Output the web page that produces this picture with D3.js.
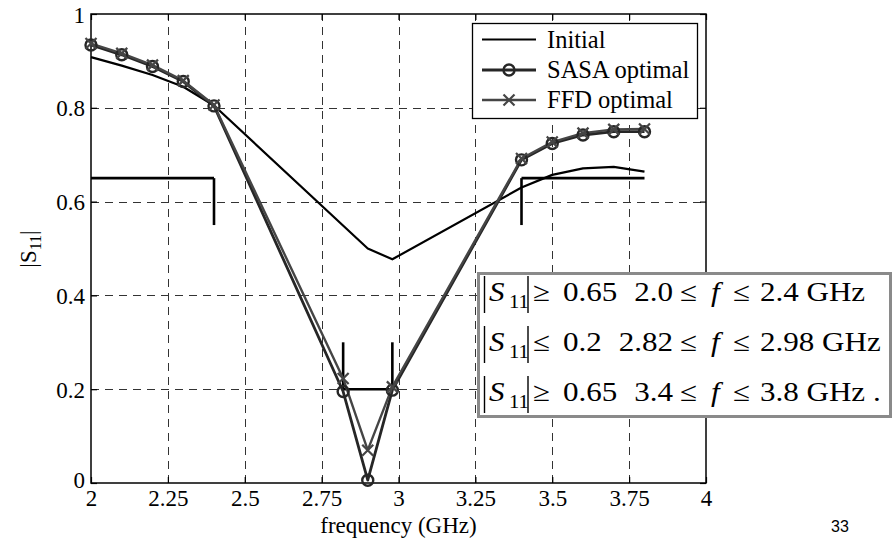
<!DOCTYPE html>
<html>
<head>
<meta charset="utf-8">
<script src="https://cdn.jsdelivr.net/npm/d3@7"></script>
<style>
  html, body { margin: 0; padding: 0; background: #fff; }
  svg { display: block; }
</style>
</head>
<body>
<svg id="chart" width="893" height="546"></svg>
<script>
// Frequency sweep (GHz) and |S11| for the initial design
const freqInitial = [2.0, 2.1, 2.2, 2.3, 2.4, 2.9, 2.98, 3.4, 3.5, 3.6, 3.7, 3.8];
const s11Initial  = [0.908, 0.89, 0.87, 0.845, 0.805, 0.50, 0.477, 0.63, 0.657, 0.671, 0.674, 0.664];

// Frequency samples used by the optimisers
const freqOpt  = [2.0, 2.1, 2.2, 2.3, 2.4, 2.82, 2.9, 2.98, 3.4, 3.5, 3.6, 3.7, 3.8];
const s11Sasa  = [0.934, 0.913, 0.888, 0.856, 0.804, 0.195, 0.006, 0.198, 0.689, 0.724, 0.742, 0.749, 0.749];
const s11Ffd   = [0.937, 0.916, 0.891, 0.858, 0.806, 0.223, 0.07, 0.205, 0.692, 0.727, 0.746, 0.754, 0.755];

// Specification bands: start, end, level
const specStart = [2.0, 2.82, 3.4];
const specEnd   = [2.4, 2.98, 3.8];
const specLevel = [0.65, 0.2, 0.65];
// Short markers at band edges (frequency, from, to)
const specTickFreq = [2.4, 2.82, 2.98, 3.4];
const specTickFrom = [0.65, 0.2, 0.2, 0.65];
const specTickTo   = [0.55, 0.3, 0.3, 0.55];

// Axis ticks
const xTicks = [2, 2.25, 2.5, 2.75, 3, 3.25, 3.5, 3.75, 4];
const yTicks = [0, 0.2, 0.4, 0.6, 0.8, 1];

// Legend entries and constraint text
const legendNames = ["Initial", "SASA optimal", "FFD optimal"];
const consRel   = ["\u2265", "\u2264", "\u2265"];
const consVal   = ["0.65", "0.2", "0.65"];
const consLow   = ["2.0", "2.82", "3.4"];
const consHigh  = ["2.4", "2.98", "3.8"];

const SERIF = "'Liberation Serif', 'Times New Roman', 'DejaVu Serif', serif";
const SANS = "'Liberation Sans', Arial, sans-serif";

const svg = d3.select("#chart");
svg.append("rect").attr("width", 893).attr("height", 546).attr("fill", "#fff");

const x = d3.scaleLinear().domain([2, 4]).range([91, 706]);
const y = d3.scaleLinear().domain([0, 1]).range([483, 14]);

function serif(sel, size) {
  return sel.style("font-family", SERIF).style("font-size", size + "px").attr("fill", "#000");
}

// Grid
const grid = svg.append("g").attr("stroke", "#333").attr("stroke-width", 1)
  .attr("stroke-dasharray", "8,6").attr("fill", "none");
xTicks.slice(1, -1).forEach(t => {
  grid.append("line").attr("x1", Math.round(x(t)) + 0.5).attr("x2", Math.round(x(t)) + 0.5)
    .attr("y1", y(0)).attr("y2", y(1));
});
yTicks.slice(1, -1).forEach(t => {
  grid.append("line").attr("y1", Math.round(y(t)) + 0.5).attr("y2", Math.round(y(t)) + 0.5)
    .attr("x1", x(2)).attr("x2", x(4));
});

// Axes (ticks pointing inward on all sides)
const tickLen = 6;
const axisBottom = svg.append("g").attr("transform", `translate(0,${y(0)})`)
  .call(d3.axisBottom(x).tickValues(xTicks).tickSize(-tickLen).tickPadding(6).tickFormat(d3.format("")));
const axisTop = svg.append("g").attr("transform", `translate(0,${y(1)})`)
  .call(d3.axisTop(x).tickValues(xTicks).tickSize(-tickLen).tickFormat(""));
const axisLeft = svg.append("g").attr("transform", `translate(${x(2)},0)`)
  .call(d3.axisLeft(y).tickValues(yTicks).tickSize(-tickLen).tickPadding(6).tickFormat(d3.format("")));
const axisRight = svg.append("g").attr("transform", `translate(${x(4)},0)`)
  .call(d3.axisRight(y).tickValues(yTicks).tickSize(-tickLen).tickFormat(""));
[axisBottom, axisTop, axisLeft, axisRight].forEach(a => {
  a.select(".domain").remove();
  a.selectAll("line").attr("stroke", "#000").attr("stroke-width", 1.2);
  serif(a.selectAll("text"), 23);
});
axisBottom.selectAll("text").attr("dy", "0.72em");
axisLeft.selectAll("text").attr("dy", "0.35em");
axisLeft.selectAll(".tick").filter(d => d === 0).select("text").attr("dy", "0.2em");

svg.append("rect").attr("x", x(2)).attr("y", y(1)).attr("width", x(4) - x(2)).attr("height", y(0) - y(1))
  .attr("fill", "none").attr("stroke", "#000").attr("stroke-width", 1.5);

// Specification lines
const specG = svg.append("g").attr("stroke", "#000").attr("stroke-width", 2.6).attr("fill", "none");
specStart.forEach((s, i) => {
  specG.append("line").attr("x1", x(s)).attr("x2", x(specEnd[i]))
    .attr("y1", y(specLevel[i])).attr("y2", y(specLevel[i]));
});
specTickFreq.forEach((f, i) => {
  specG.append("line").attr("x1", x(f)).attr("x2", x(f))
    .attr("y1", y(specTickFrom[i])).attr("y2", y(specTickTo[i]));
});

const line = d3.line().x(d => x(d[0])).y(d => y(d[1]));
const initPts = freqInitial.map((f, i) => [f, s11Initial[i]]);
const sasaPts = freqOpt.map((f, i) => [f, s11Sasa[i]]);
const ffdPts  = freqOpt.map((f, i) => [f, s11Ffd[i]]);

const colInit = "#000", colSasa = "#262626", colFfd = "#454545";

svg.append("path").datum(initPts).attr("d", line)
  .attr("fill", "none").attr("stroke", colInit).attr("stroke-width", 2.2).attr("stroke-linejoin", "round");
svg.append("path").datum(sasaPts).attr("d", line)
  .attr("fill", "none").attr("stroke", colSasa).attr("stroke-width", 2.8).attr("stroke-linejoin", "round");
svg.append("path").datum(ffdPts).attr("d", line)
  .attr("fill", "none").attr("stroke", colFfd).attr("stroke-width", 2.4).attr("stroke-linejoin", "round");

function crossPath(cx, cy, r) {
  return `M${cx - r},${cy - r}L${cx + r},${cy + r}M${cx - r},${cy + r}L${cx + r},${cy - r}`;
}

// Markers
svg.append("g").selectAll("circle").data(sasaPts).join("circle")
  .attr("cx", d => x(d[0])).attr("cy", d => y(d[1])).attr("r", 5.5)
  .attr("fill", "none").attr("stroke", colSasa).attr("stroke-width", 2.4);
svg.append("g").selectAll("path").data(ffdPts).join("path")
  .attr("d", d => crossPath(x(d[0]), y(d[1]), 5.5))
  .attr("fill", "none").attr("stroke", colFfd).attr("stroke-width", 2.2);

// Legend
const lg = svg.append("g");
lg.append("rect").attr("x", 472.5).attr("y", 23.5).attr("width", 225).attr("height", 95)
  .attr("fill", "#fff").attr("stroke", "#000").attr("stroke-width", 1.3);
const rowY = [39.5, 70, 100];
const styles = [
  { c: colInit, w: 2.2, m: null },
  { c: colSasa, w: 2.8, m: "o" },
  { c: colFfd, w: 2.4, m: "x" }
];
legendNames.forEach((name, i) => {
  const st = styles[i];
  lg.append("line").attr("x1", 482).attr("x2", 536).attr("y1", rowY[i]).attr("y2", rowY[i])
    .attr("stroke", st.c).attr("stroke-width", st.w);
  if (st.m === "o") {
    lg.append("circle").attr("cx", 509).attr("cy", rowY[i]).attr("r", 5.5)
      .attr("fill", "none").attr("stroke", st.c).attr("stroke-width", 2.4);
  } else if (st.m === "x") {
    lg.append("path").attr("d", crossPath(509, rowY[i], 5.5))
      .attr("fill", "none").attr("stroke", st.c).attr("stroke-width", 2.2);
  }
  serif(lg.append("text").attr("x", 547).attr("y", rowY[i] + 8), 24.5).text(name);
});

// Constraint box
const cb = svg.append("g");
cb.append("rect").attr("x", 478.5).attr("y", 273.5).attr("width", 412).attr("height", 143)
  .attr("fill", "#fff").attr("stroke", "#8a8a8a").attr("stroke-width", 3);
const consY = [292, 342, 392];
const FS = 27, SX = 1.15;
function piece(px, base, str, opts = {}) {
  const t = cb.append("text")
    .attr("transform", `translate(${px},${base}) scale(${SX},1)`)
    .attr("text-anchor", opts.anchor || "start");
  serif(t, FS);
  if (opts.italic) t.style("font-style", "italic");
  t.text(str);
  return t;
}
consY.forEach((cy, i) => {
  const base = cy + 9;
  // |S11|
  cb.append("line").attr("x1", 484.5).attr("x2", 484.5).attr("y1", cy - 16).attr("y2", cy + 21)
    .attr("stroke", "#000").attr("stroke-width", 1.4);
  cb.append("line").attr("x1", 528).attr("x2", 528).attr("y1", cy - 16).attr("y2", cy + 21)
    .attr("stroke", "#000").attr("stroke-width", 1.4);
  piece(489, base, "S", { italic: true });
  const sub = cb.append("text").attr("transform", `translate(509,${base + 7}) scale(${SX},1)`);
  serif(sub, 18).text("11");
  piece(533, base, consRel[i]);
  piece(563, base, consVal[i]);
  piece(673, base, consLow[i], { anchor: "end" });
  piece(680, base, "\u2264");
  piece(711, base, "f", { italic: true });
  piece(733, base, "\u2264");
  piece(760, base, consHigh[i] + " GHz" + (i === 2 ? " ." : ""));
});

// Axis titles
serif(svg.append("text").attr("x", x(3)).attr("y", 533).attr("text-anchor", "middle"), 23)
  .text("frequency (GHz)");
const yl = svg.append("g").attr("transform", "translate(36,249) rotate(-90)");
serif(yl.append("text").attr("x", 0).attr("y", 0).attr("text-anchor", "middle"), 23)
  .call(t => {
    t.append("tspan").text("|S");
    t.append("tspan").style("font-size", "16px").attr("dy", 5).text("11");
    t.append("tspan").attr("dy", -5).text("|");
  });

// Page number
svg.append("text").attr("x", 840).attr("y", 532).attr("text-anchor", "middle")
  .style("font-family", SANS).style("font-size", "16px").attr("fill", "#000").text("33");
</script>
</body>
</html>
